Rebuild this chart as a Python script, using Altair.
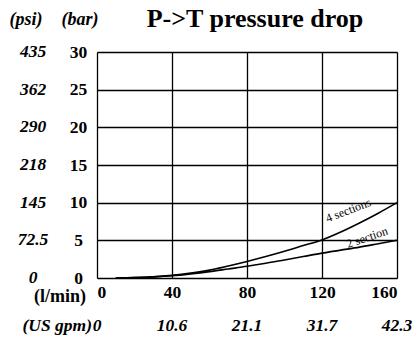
import altair as alt
import pandas as pd

# flow (l/min) and pressure drop (bar)
flow = [10, 20, 30, 40, 50, 60, 70, 80, 90, 100, 110, 120, 130, 140, 150, 160]
drop_4 = [0, 0.05, 0.15, 0.35, 0.65, 1.05, 1.6, 2.2, 2.85, 3.55, 4.3, 5.05, 6.1, 7.3, 8.6, 10.0]
drop_2 = [0, 0.05, 0.15, 0.3, 0.55, 0.85, 1.2, 1.55, 1.95, 2.4, 2.85, 3.3, 3.7, 4.1, 4.55, 5.0]

bar_ticks = [0, 5, 10, 15, 20, 25, 30]
psi_labels = ["0", "72.5", "145", "218", "290", "362", "435"]
lmin_ticks = [0, 40, 80, 120, 160]
gpm_labels = ["0", "10.6", "21.1", "31.7", "42.3"]

series_names = ["4 sections", "2 section"]
label_flow = [134, 144]
label_drop = [9.0, 5.4]
label_angle = [339, 341]

FONT = "'Liberation Serif', 'Times New Roman', Times, serif"
FS = 17.5

rows = []
for f, a, b in zip(flow, drop_4, drop_2):
    rows.append({"flow": f, "drop": a, "series": "4 sections"})
    rows.append({"flow": f, "drop": b, "series": "2 section"})
df = pd.DataFrame(rows)

xs = alt.Scale(domain=[0, 160], nice=False)
ys = alt.Scale(domain=[0, 30], nice=False)

x_axis = alt.Axis(
    values=lmin_ticks, grid=True, gridColor="black", gridWidth=1.3, gridOpacity=1,
    ticks=False, tickSize=0, domain=False, title=None, labelOverlap=False,
    labelFont=FONT, labelFontWeight="bold", labelFontSize=FS, labelColor="black",
    labelPadding=5, labelBaseline="top")
y_axis = alt.Axis(
    values=bar_ticks, grid=True, gridColor="black", gridWidth=1.3, gridOpacity=1,
    ticks=False, tickSize=0, domain=False, title=None, labelOverlap=False,
    labelFont=FONT, labelFontWeight="bold", labelFontSize=FS, labelColor="black",
    labelAlign="center", labelBaseline="middle", labelPadding=19)

lines = alt.Chart(df).mark_line(color="black", strokeWidth=1.6, interpolate="monotone").encode(
    x=alt.X("flow:Q", scale=xs, axis=x_axis),
    y=alt.Y("drop:Q", scale=ys, axis=y_axis),
    detail="series:N",
)

lab_df = pd.DataFrame({"flow": label_flow, "drop": label_drop,
                       "name": series_names, "angle": label_angle})
labels = alt.Chart(lab_df).mark_text(font=FONT, fontSize=12, color="black").encode(
    x=alt.X("flow:Q", scale=xs, axis=x_axis),
    y=alt.Y("drop:Q", scale=ys, axis=y_axis),
    text="name:N",
    angle=alt.Angle("angle:Q", scale=None),
)

psi_df = pd.DataFrame({"drop": bar_ticks, "psi": psi_labels})
psi = alt.Chart(psi_df).mark_text(font=FONT, fontSize=FS, fontWeight="bold",
                                  fontStyle="italic", color="black",
                                  align="center", baseline="middle").encode(
    x=alt.value(-64),
    y=alt.Y("drop:Q", scale=ys, axis=y_axis),
    text="psi:N",
)

gpm_df = pd.DataFrame({"flow": lmin_ticks, "gpm": gpm_labels})
gpm = alt.Chart(gpm_df).mark_text(font=FONT, fontSize=FS, fontWeight="bold",
                                  fontStyle="italic", color="black",
                                  align="center", baseline="middle").encode(
    x=alt.X("flow:Q", scale=xs, axis=x_axis),
    y=alt.value(274),
    text="gpm:N",
)

unit_df = pd.DataFrame({
    "txt": ["(psi)", "(bar)", "(l/min)", "(US gpm)"],
    "px": [-71, -17, -11, -5],
    "py": [-32, -32, 245, 274],
    "st": ["italic", "italic", "normal", "italic"],
    "al": ["center", "center", "right", "right"],
    "fs": [18, 18, 18, 17.5],
})
units = []
for _, r in unit_df.iterrows():
    units.append(alt.Chart(pd.DataFrame([r])).mark_text(
        font=FONT, fontSize=float(r["fs"]), fontWeight="bold", fontStyle=r["st"], color="black",
        align=r["al"], baseline="middle").encode(
        x=alt.value(int(r["px"])), y=alt.value(int(r["py"])), text="txt:N"))

title = alt.Chart(pd.DataFrame({"t": ["P->T pressure drop"]})).mark_text(
    font=FONT, fontSize=26, fontWeight="bold", color="black",
    align="center", baseline="alphabetic").encode(
    x=alt.value(158), y=alt.value(-25), text="t:N")

chart = alt.layer(lines, labels, psi, gpm, title, *units).properties(
    width=300, height=226,
    autosize=alt.AutoSizeParams(type="none"),
    padding={"left": 97, "top": 52, "right": 19, "bottom": 61},
).configure_view(stroke="black", strokeWidth=1.5).configure(background="white")

chart.save("out.html", embed_options={"renderer": "svg", "actions": False})
